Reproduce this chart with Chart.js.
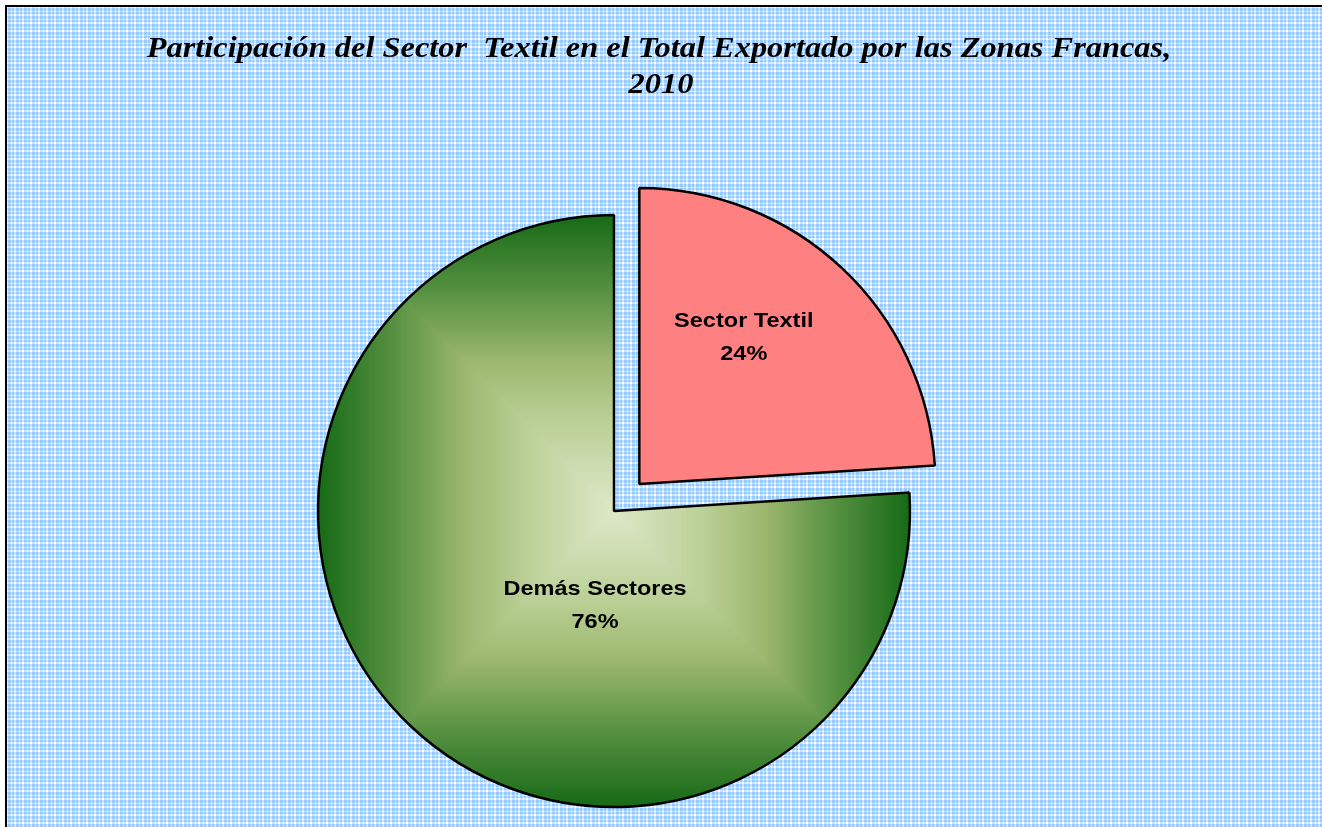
<html lang="es">
<head>
  <meta charset="UTF-8">
  <title>Participación del Sector Textil</title>
  <script src="https://cdn.jsdelivr.net/npm/chart.js"></script>
  <style>
    body { margin: 0; background: #fff; }
  </style>
</head>
<body>
  <canvas id="pieChart" width="1322" height="827"></canvas>

  <script>
    const categories = ['Sector Textil', 'Demás Sectores'];
    const shares = [24, 76];
    const titleLines = ['Participación del Sector  Textil en el Total Exportado por las Zonas Francas,', '2010'];

    // where the label sits, relative to its slice centre, in units of the radius
    const labelShift = [[0.353, -0.497], [-0.064, 0.318]];

    // plaid tile, like the excel fill pattern
    function makeTile() {
      const cols = [1, 1, 1, 0, 1, 1, 0, 0];
      const n = cols.length;
      const c = document.createElement('canvas');
      c.width = n; c.height = n;
      const g = c.getContext('2d');
      const img = g.createImageData(n, n);
      for (let y = 0; y < n; y++) {
        for (let x = 0; x < n; x++) {
          const s = cols[x] + cols[y];
          const f = s === 2 ? 1 : (s === 1 ? 0.5 : 0);
          const i = (y * n + x) * 4;
          img.data[i] = 255 - f * (255 - 150);
          img.data[i + 1] = 255 - f * (255 - 202);
          img.data[i + 2] = 255;
          img.data[i + 3] = 255;
        }
      }
      g.putImageData(img, 0, 0);
      return c;
    }

    // rectangular "from centre" gradient for the green slice
    const greenStops = [
      [0, [222, 232, 200]],
      [0.3, [186, 208, 150]],
      [0.5, [158, 184, 112]],
      [0.75, [84, 144, 64]],
      [1, [22, 106, 22]]
    ];

    function greenAt(t) {
      t = Math.min(Math.max(t, 0), 1);
      for (let i = 1; i < greenStops.length; i++) {
        const [t1, c1] = greenStops[i];
        const [t0, c0] = greenStops[i - 1];
        if (t <= t1) {
          const k = (t - t0) / (t1 - t0);
          return c0.map((v, j) => v + (c1[j] - v) * k);
        }
      }
      return greenStops[greenStops.length - 1][1];
    }

    let greenCache = null;
    function greenFill(context) {
      const chart = context.chart;
      const area = chart.chartArea;
      const ctrl = chart.getDatasetMeta(0).controller;
      if (!area || !ctrl || !ctrl.outerRadius) return '#6a9a4a';
      const cx = (area.left + area.right) / 2 + (ctrl.offsetX || 0);
      const cy = (area.top + area.bottom) / 2 + (ctrl.offsetY || 0);
      const r = ctrl.outerRadius;
      const key = cx + ',' + cy + ',' + r;
      if (greenCache && greenCache.key === key) return greenCache.pat;

      const off = document.createElement('canvas');
      off.width = chart.width; off.height = chart.height;
      const g = off.getContext('2d');
      const img = g.createImageData(off.width, off.height);
      const x0 = Math.max(0, Math.floor(cx - r - 2)), x1 = Math.min(off.width, Math.ceil(cx + r + 2));
      const y0 = Math.max(0, Math.floor(cy - r - 2)), y1 = Math.min(off.height, Math.ceil(cy + r + 2));
      for (let y = y0; y < y1; y++) {
        for (let x = x0; x < x1; x++) {
          const t = Math.max(Math.abs(x + 0.5 - cx), Math.abs(y + 0.5 - cy)) / r;
          const col = greenAt(t);
          const i = (y * off.width + x) * 4;
          img.data[i] = col[0]; img.data[i + 1] = col[1]; img.data[i + 2] = col[2]; img.data[i + 3] = 255;
        }
      }
      g.putImageData(img, 0, 0);
      const pat = chart.ctx.createPattern(off, 'no-repeat');
      greenCache = { key, pat };
      return pat;
    }

    // text in the original is a bit wider than the font, so stretch it
    function wideText(ctx, text, x, y, sx) {
      ctx.save();
      ctx.translate(x, y);
      ctx.scale(sx, 1);
      ctx.fillText(text, 0, 0);
      ctx.restore();
    }

    const framePlugin = {
      id: 'frame',
      beforeDraw(chart) {
        const ctx = chart.ctx;
        ctx.save();
        ctx.fillStyle = '#fff';
        ctx.fillRect(0, 0, chart.width, chart.height);
        ctx.fillStyle = ctx.createPattern(makeTile(), 'repeat');
        ctx.fillRect(7, 7, chart.width, chart.height);
        ctx.strokeStyle = '#000';
        ctx.lineWidth = 2;
        ctx.strokeRect(6, 6, chart.width + 10, chart.height + 10);

        // title
        ctx.fillStyle = '#000';
        ctx.font = 'italic bold 30px "Liberation Serif", "Times New Roman", serif';
        ctx.textAlign = 'center';
        ctx.textBaseline = 'alphabetic';
        wideText(ctx, titleLines[0], 659, 57, 1.08);
        wideText(ctx, titleLines[1], 661, 93, 1.08);
        ctx.restore();
      }
    };

    const labelPlugin = {
      id: 'sliceLabels',
      afterDatasetsDraw(chart) {
        const ctx = chart.ctx;
        const meta = chart.getDatasetMeta(0);
        const total = shares.reduce((a, b) => a + b, 0);
        ctx.save();
        ctx.fillStyle = '#000';
        ctx.font = 'bold 21px "Liberation Sans", Arial, sans-serif';
        ctx.textAlign = 'center';
        ctx.textBaseline = 'middle';
        meta.data.forEach((arc, i) => {
          const p = arc.getProps(['x', 'y', 'startAngle', 'endAngle', 'outerRadius']);
          const mid = (p.startAngle + p.endAngle) / 2;
          // chart.js draws the offset at a quarter of the option value
          const offset = (arc.options.offset || 0) / 4;
          const cx = p.x + Math.cos(mid) * offset;
          const cy = p.y + Math.sin(mid) * offset;
          const lx = cx + labelShift[i][0] * p.outerRadius;
          const ly = cy + labelShift[i][1] * p.outerRadius;
          wideText(ctx, categories[i], lx, ly - 16, 1.12);
          wideText(ctx, Math.round(shares[i] / total * 100) + '%', lx, ly + 17, 1.12);
        });
        ctx.restore();
      }
    };

    const ctx = document.getElementById('pieChart').getContext('2d');
    new Chart(ctx, {
      type: 'pie',
      data: {
        labels: categories,
        datasets: [{
          data: shares,
          backgroundColor: (c) => c.dataIndex === 0 ? '#ff8080' : greenFill(c),
          borderColor: '#000',
          borderWidth: 2.5,
          offset: [148, 0],
          hoverOffset: 0
        }]
      },
      options: {
        responsive: false,
        devicePixelRatio: 1,
        animation: false,
        radius: 296,
        rotation: 0,
        layout: { padding: { top: 195, bottom: 0, left: 0, right: 94 } },
        plugins: {
          legend: { display: false },
          title: { display: false },
          tooltip: { enabled: false }
        }
      },
      plugins: [framePlugin, labelPlugin]
    });
  </script>
</body>
</html>
